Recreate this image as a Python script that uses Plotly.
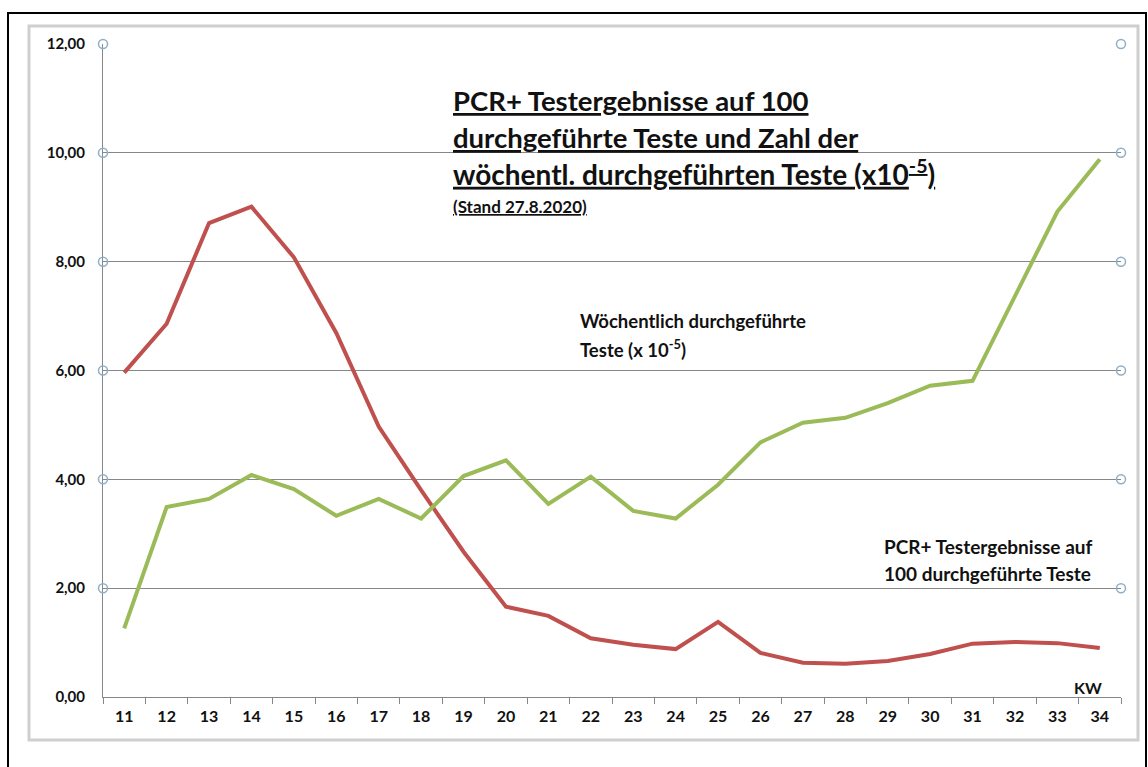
import plotly.graph_objects as go

# ---------------- data ----------------
kw = ["11", "12", "13", "14", "15", "16", "17", "18", "19", "20", "21", "22",
      "23", "24", "25", "26", "27", "28", "29", "30", "31", "32", "33", "34"]
pcr_pos_per_100 = [5.96, 6.86, 8.71, 9.01, 8.08, 6.69, 4.97, 3.80, 2.67, 1.66, 1.49, 1.08,
                   0.96, 0.88, 1.38, 0.81, 0.63, 0.61, 0.66, 0.79, 0.98, 1.01, 0.99, 0.90]
tests_weekly = [1.26, 3.49, 3.64, 4.08, 3.82, 3.33, 3.64, 3.28, 4.06, 4.35, 3.55, 4.05,
                3.42, 3.28, 3.90, 4.68, 5.04, 5.13, 5.40, 5.72, 5.81, 7.35, 8.92, 9.88]
y_ticks = [0, 2, 4, 6, 8, 10, 12]

RED = "#C0504D"
GREEN = "#9BBB59"
GRID = "#878787"
FONT = "Lato"

W, H = 1148, 767
L, R, T, B = 103, 1121, 44, 697  # plot area in pixels


def px(x):
    return (x - L) / (R - L)


def py(y):
    return (B - y) / (B - T)


fig = go.Figure()
fig.add_trace(go.Scatter(x=kw, y=pcr_pos_per_100, mode="lines",
                         line=dict(color=RED, width=4), showlegend=False))
fig.add_trace(go.Scatter(x=kw, y=tests_weekly, mode="lines",
                         line=dict(color=GREEN, width=4), showlegend=False))

shapes = []
# outer black frame
shapes.append(dict(type="rect", xref="paper", yref="paper",
                   x0=px(8), x1=px(1146), y0=py(775), y1=py(13),
                   line=dict(color="black", width=2), layer="above"))
# inner grey chart frame
shapes.append(dict(type="rect", xref="paper", yref="paper",
                   x0=px(29), x1=px(1138), y0=py(740), y1=py(26),
                   line=dict(color="#CFCFCF", width=3), layer="above"))
# white text boxes covering gridlines (between grid and traces)
for (x0, x1, y0, y1) in [(443, 972, 80, 222), (570, 785, 300, 380), (872, 1108, 528, 598)]:
    shapes.append(dict(type="rect", xref="paper", yref="paper",
                       x0=px(x0), x1=px(x1), y0=py(y1), y1=py(y0),
                       fillcolor="white", line=dict(width=0), layer="between"))
# selection-handle circles at gridline ends
ymax = y_ticks[-1]
rx = 4.5 / (R - L)
ry = 4.5 / (B - T)
for v in y_ticks[1:]:
    for xc in (0, 1):
        shapes.append(dict(type="circle", xref="paper", yref="paper",
                           x0=xc - rx, x1=xc + rx, y0=v / ymax - ry, y1=v / ymax + ry,
                           fillcolor="rgba(255,255,255,0)",
                           line=dict(color="#8EAFC6", width=1.5), layer="above"))

ann = []


def text(x, y, s, size, xanchor="left"):
    ann.append(dict(x=px(x), y=py(y), xref="paper", yref="paper", text=s,
                    showarrow=False, xanchor=xanchor, yanchor="middle", align="left",
                    font=dict(family=FONT, size=size, color="#111111", weight="bold")))


text(451, 100, "<u>PCR+ Testergebnisse auf 100</u>", 27.5)
text(451, 137, "<u>durchgeführte Teste und Zahl der</u>", 27.5)
text(451, 172, "<u>wöchentl. durchgeführten Teste (x10<sup>-5</sup>)</u>", 28)
text(451, 206, "<u>(Stand 27.8.2020)</u>", 17)
text(578, 321, "Wöchentlich durchgeführte", 18.5)
text(578, 348, "Teste (x 10<sup>-5</sup>)", 18.5)
text(882, 546, "PCR+ Testergebnisse auf", 19)
text(882, 573, "100 durchgeführte Teste", 19)
text(1104, 687, "KW", 16, xanchor="right")

fig.update_layout(
    width=W, height=H,
    margin=dict(l=L, r=W - R, t=T, b=H - B),
    paper_bgcolor="white", plot_bgcolor="white",
    separators=",.",
    shapes=shapes, annotations=ann,
    showlegend=False,
    xaxis=dict(type="category", range=[-0.5, len(kw) - 0.5], tickson="boundaries",
               ticks="outside", ticklen=6, tickcolor=GRID, showline=True,
               linecolor=GRID, linewidth=1, showgrid=False, zeroline=False,
               ticklabelstandoff=5,
               tickfont=dict(family=FONT, size=16, color="#111111", weight="bold")),
    yaxis=dict(range=[0, 12], tickvals=y_ticks, tickformat=".2f",
               showline=True, linecolor=GRID, linewidth=1,
               showgrid=True, gridcolor=GRID, gridwidth=1, zeroline=False,
               ticks="", ticklabelstandoff=14,
               tickfont=dict(family=FONT, size=15, color="#111111", weight="bold")),
)

fig.write_html("out.html", config={"displayModeBar": False},
               post_script="document.body.style.margin='0';")
